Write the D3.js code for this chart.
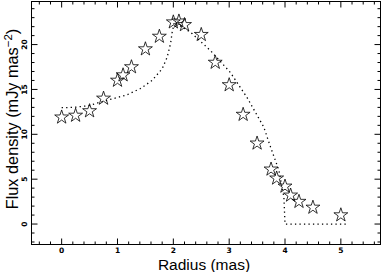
<!DOCTYPE html>
<html><head><meta charset="utf-8">
<script src="https://cdn.jsdelivr.net/npm/d3@7"></script>
<style>body{margin:0;background:#fff}svg{display:block}</style>
</head><body>
<script>
// Observed flux density (stars)
const radiusObs = [0, 0.25, 0.5, 0.75, 1.0, 1.1, 1.25, 1.5, 1.75, 2.0, 2.1, 2.2, 2.5, 2.75, 3.0, 3.25, 3.5, 3.75, 3.85, 4.0, 4.1, 4.25, 4.5, 5.0];
const fluxObs   = [11.9, 12.1, 12.6, 14.0, 16.0, 16.6, 17.5, 19.5, 20.9, 22.5, 22.6, 22.2, 21.1, 18.0, 15.5, 12.2, 9.0, 6.1, 5.1, 4.2, 3.2, 2.5, 1.85, 1.0];
// Model curve (dotted)
const radiusModel = [0, 0.22, 0.49, 0.70, 0.94, 1.17, 1.41, 1.62, 1.80, 1.89, 1.95, 1.98, 2.02, 2.25, 2.34, 2.67, 3.02, 3.32, 3.62, 3.74, 3.89, 3.98, 4.0, 5.14];
const fluxModel   = [12.97, 13.0, 13.2, 13.6, 14.0, 14.4, 15.1, 16.0, 17.3, 18.6, 20.1, 21.4, 22.5, 21.6, 21.2, 19.3, 16.9, 14.1, 10.8, 8.6, 6.0, 3.0, 0.0, 0.0];
const xMajor = [0, 1, 2, 3, 4, 5];
const yMajor = [0, 5, 10, 15, 20];
const xLabel = "Radius  (mas)";
const yLabel = "Flux density (mJy mas";

const W = 382, H = 272;
const L = 31.5, R = 380.5, T = 1.5, B = 244.5;
const x = d3.scaleLinear().domain([-0.54, 5.71]).range([L, R]);
const y = d3.scaleLinear().domain([-2.28, 24.8]).range([B, T]);

const svg = d3.select("body").append("svg").attr("width", W).attr("height", H);

// frame
svg.append("rect").attr("x", L).attr("y", T).attr("width", R - L).attr("height", B - T)
  .attr("fill", "none").attr("stroke", "#000").attr("stroke-width", 1);

// ticks
const xMinor = d3.range(-0.4, 5.71, 0.2).map(v => Math.round(v * 10) / 10).filter(v => !xMajor.includes(v));
const yMinor = d3.range(-2, 24.8, 1).filter(v => !yMajor.includes(v));
const tg = svg.append("g").attr("stroke", "#000").attr("stroke-width", 1);
function xt(vals, len) {
  vals.forEach(v => {
    tg.append("line").attr("x1", x(v)).attr("x2", x(v)).attr("y1", B).attr("y2", B - len);
    tg.append("line").attr("x1", x(v)).attr("x2", x(v)).attr("y1", T).attr("y2", T + len);
  });
}
function yt(vals, len) {
  vals.forEach(v => {
    tg.append("line").attr("y1", y(v)).attr("y2", y(v)).attr("x1", L).attr("x2", L + len);
    tg.append("line").attr("y1", y(v)).attr("y2", y(v)).attr("x1", R).attr("x2", R - len);
  });
}
xt(xMajor, 6); xt(xMinor, 3);
yt(yMajor, 6); yt(yMinor, 3);

// tick labels
svg.append("g").selectAll("text").data(xMajor).join("text")
  .attr("x", d => x(d)).attr("y", 253).attr("text-anchor", "middle")
  .attr("font-family", "DejaVu Sans, sans-serif").attr("font-weight", "bold").attr("font-size", 7.5)
  .text(d => d);
svg.append("g").selectAll("text").data(yMajor).join("text")
  .attr("transform", d => `translate(27,${y(d)}) rotate(-90)`).attr("text-anchor", "middle")
  .attr("font-family", "DejaVu Sans, sans-serif").attr("font-weight", "bold").attr("font-size", 7.5)
  .text(d => d);

// axis titles
svg.append("text").attr("x", 204).attr("y", 270).attr("text-anchor", "middle")
  .attr("font-family", "Liberation Sans, Arial, sans-serif").attr("font-size", 15.5)
  .text(xLabel);
const yt2 = svg.append("text").attr("transform", "translate(18,119) rotate(-90)").attr("text-anchor", "middle")
  .attr("font-family", "Liberation Sans, Arial, sans-serif").attr("font-size", 16.3);
yt2.append("tspan").text(yLabel);
yt2.append("tspan").attr("dy", -6).attr("font-size", 11.5).text("\u22122");
yt2.append("tspan").attr("dy", 6).text(")");

// model line
const line = d3.line().x((d, i) => x(radiusModel[i])).y((d, i) => y(fluxModel[i]));
svg.append("path").datum(radiusModel).attr("d", line).attr("fill", "none")
  .attr("stroke", "#000").attr("stroke-width", 1.3).attr("stroke-dasharray", "1.3,3.2");

// stars
const star = d3.symbol().type(d3.symbolStar).size(60);
svg.append("g").selectAll("path").data(radiusObs).join("path")
  .attr("transform", (d, i) => `translate(${x(d)},${y(fluxObs[i])})`)
  .attr("d", star).attr("fill", "none").attr("stroke", "#000").attr("stroke-width", 0.8);
</script>
</body></html>
